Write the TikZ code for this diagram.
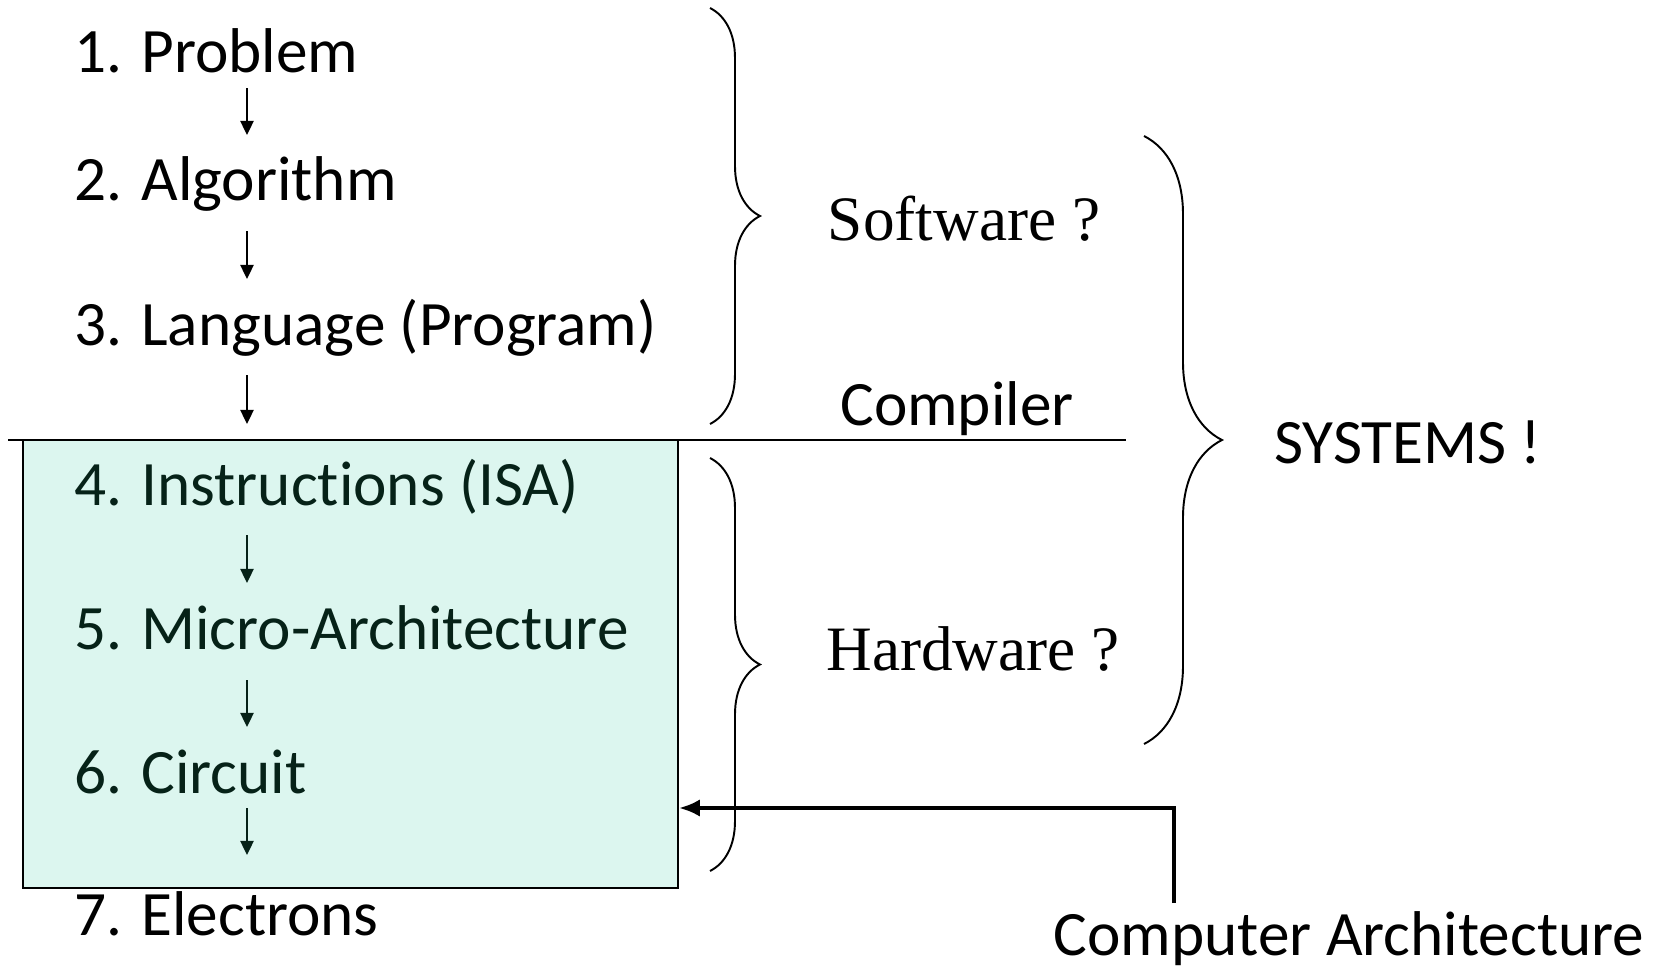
\documentclass[tikz,border=0pt]{standalone}
\usepackage{fontspec}
\setmainfont{Carlito}[RawFeature=-liga]
\newfontfamily\timesfont{Liberation Serif}
\usetikzlibrary{arrows.meta,decorations.pathreplacing}
\definecolor{mint}{RGB}{220,246,239}
\definecolor{deepgreen}{RGB}{6,34,24}

\begin{document}
\begin{tikzpicture}[x=0.02cm,y=-0.02cm]
\tikzstyle{level}=[inner sep=0pt,anchor=base west,font=\fontsize{36}{40}\selectfont]
\tikzstyle{tag}=[inner sep=0pt,anchor=base,font=\fontsize{36}{40}\selectfont]
\tikzstyle{serif}=[inner sep=0pt,anchor=base,font=\timesfont\fontsize{36}{40}\selectfont]
\tikzstyle{flow}=[line width=1.1pt,-{Triangle[length=8pt,width=7.5pt]}]
\tikzstyle{brace}=[line width=1.1pt,decorate,decoration={brace,amplitude=1cm}]

\useasboundingbox (0,0) rectangle (1661,967);

\node (hw) [draw, line width=1.1pt, fill=mint, inner sep=0pt, minimum width=13.1cm, minimum height=8.96cm] at (350.5,664) {};

\coordinate (cutL) at (8,440);
\coordinate (cutR) at (1126,440);
\draw [line width=1.1pt] (cutL) -- (cutR);

\node (l1) [level] at (74,72) {1. Problem};
\node (l2) [level] at (74,200) {2. Algorithm};
\node (l3) [level] at (74,345) {3. Language (Program)};
\node (l4) [level,text=deepgreen] at (74,505) {4. Instructions (ISA)};
\node (l5) [level,text=deepgreen] at (74,649) {5. Micro-Architecture};
\node (l6) [level,text=deepgreen] at (74,793) {6. Circuit};
\node (l7) [level] at (74,935) {7. Electrons};

\foreach \a/\b/\s/\e in {l1/l2/16/65, l2/l3/31/66, l3/l4/30/81}
  \draw [flow] ([shift={(173,\s)}]\a.base west) -- ([shift={(173,-\e)}]\b.base west);
\foreach \a/\b/\s/\e in {l4/l5/30/66, l5/l6/31/66, l6/l7/15/80}
  \draw [flow,deepgreen] ([shift={(173,\s)}]\a.base west) -- ([shift={(173,-\e)}]\b.base west);

\draw [brace] (710,8) -- (710,424);
\draw [brace] (710,458) -- (710,871);
\draw [brace,decoration={amplitude=1.56cm}] (1144,136) -- (1144,744);

\node (sw) [serif] at (964,240) {Software ?};
\node (hwq) [serif] at (973,670) {Hardware ?};
\node (comp) [tag] at (957,425) {Compiler};
\node (sys) [tag] at (1408,463) {SYSTEMS !};
\node (ca) [tag] at (1349,955) {Computer Architecture};

\coordinate (caTop) at (1174,903);
\coordinate (bend) at (1174,808);
\draw [line width=2.8pt, -{Latex[length=12pt,width=10pt]}] (caTop) -- (bend) -- (hw.east |- bend);
%\draw [help lines] (0,0) grid (1661,967);
\end{tikzpicture}
\end{document}
